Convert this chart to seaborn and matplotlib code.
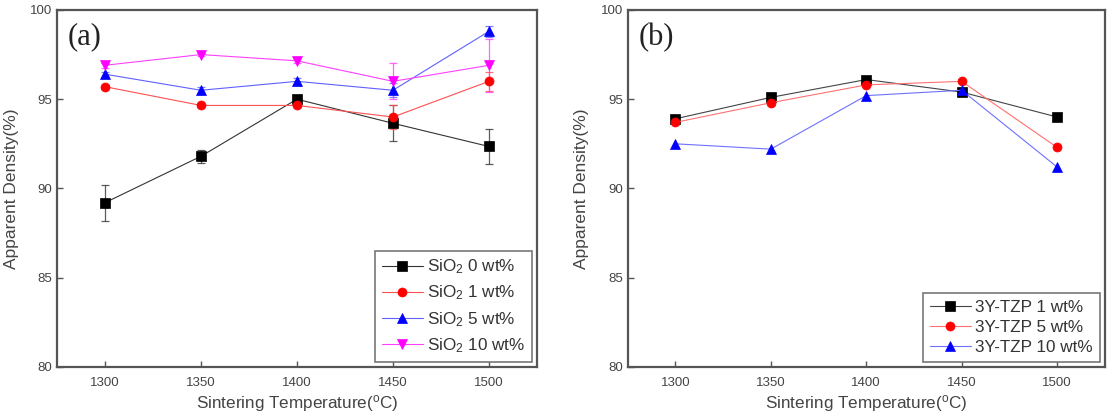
import numpy as np
import pandas as pd
import matplotlib
matplotlib.use("Agg")
import matplotlib.pyplot as plt
import seaborn as sns

# ---------------------------------------------------------
# DATA
# ---------------------------------------------------------

temps = [1300, 1350, 1400, 1450, 1500]

# panel (a): SiO2 additions
sio2_labels = ["SiO$_2$ 0 wt%", "SiO$_2$ 1 wt%", "SiO$_2$ 5 wt%", "SiO$_2$ 10 wt%"]
sio2_0 = [89.2, 91.8, 95.0, 93.65, 92.35]
sio2_1 = [95.7, 94.65, 94.65, 94.0, 96.0]
sio2_5 = [96.4, 95.5, 96.0, 95.5, 98.8]
sio2_10 = [96.9, 97.5, 97.15, 96.0, 96.9]
sio2_0_err = [1.0, 0.35, 0.1, 1.0, 1.0]
sio2_1_err = [0.1, 0.1, 0.1, 0.65, 0.55]
sio2_5_err = [0.15, 0.2, 0.2, 0.4, 0.3]
sio2_10_err = [0.15, 0.1, 0.15, 1.0, 1.5]

# panel (b): 3Y-TZP additions
tzp_labels = ["3Y-TZP 1 wt%", "3Y-TZP 5 wt%", "3Y-TZP 10 wt%"]
tzp_1 = [93.9, 95.1, 96.1, 95.4, 94.0]
tzp_5 = [93.7, 94.8, 95.8, 96.0, 92.3]
tzp_10 = [92.5, 92.2, 95.2, 95.5, 91.2]

colors_a = ["black", "red", "blue", "magenta"]
lines_a = ["#333333", "#ff5050", "#6060ff", "#ff40ff"]
markers_a = ["s", "o", "^", "v"]
colors_b = ["black", "red", "blue"]
lines_b = ["#444444", "#ff7070", "#7070ff"]
markers_b = ["s", "o", "^"]

# ---------------------------------------------------------
# STYLE
# ---------------------------------------------------------

sns.set_theme(style="ticks")
plt.rcParams["font.family"] = ["Liberation Sans", "DejaVu Sans"]
plt.rcParams["mathtext.default"] = "regular"
plt.rcParams["xtick.direction"] = "in"
plt.rcParams["ytick.direction"] = "in"

TEXT_GRAY = "#444444"
SPINE_GRAY = "#555555"


def style_axes(ax, tag):
    ax.set_xlim(1275, 1525)
    ax.set_ylim(80, 100)
    ax.set_xticks(temps)
    ax.set_yticks([80, 85, 90, 95, 100])
    ax.tick_params(axis="both", labelsize=9.5, colors=SPINE_GRAY,
                   labelcolor=TEXT_GRAY, length=4, width=1)
    ax.tick_params(axis="x", pad=7)
    for sp in ax.spines.values():
        sp.set_visible(True)
        sp.set_color(SPINE_GRAY)
        sp.set_linewidth(1.6)
    ax.set_xlabel("Sintering Temperature($^o$C)", fontsize=12.3,
                  color=TEXT_GRAY, labelpad=3)
    ax.set_ylabel("Apparent Density(%)", fontsize=12.5,
                  color=TEXT_GRAY, labelpad=8)
    ax.text(0.023, 0.965, tag, transform=ax.transAxes, ha="left", va="top",
            fontsize=22, family=["Liberation Serif", "DejaVu Serif"],
            color="#222222")


def draw_panel(ax, series, labels, colors, lcolors, markers, errors=None,
               spacing=0.3):
    for i, vals in enumerate(series):
        df = pd.DataFrame({"T": temps, "D": vals})
        sns.lineplot(data=df, x="T", y="D", ax=ax, color=lcolors[i],
                     marker=markers[i], markersize=6.5, linewidth=0.8,
                     markerfacecolor=colors[i], markeredgecolor=colors[i],
                     markeredgewidth=0.5, label=labels[i], zorder=3)
        if errors is not None:
            ax.errorbar(temps, vals, yerr=errors[i], fmt="none",
                        ecolor=lcolors[i], elinewidth=0.9, capsize=3,
                        capthick=0.9, alpha=0.8, zorder=2)
    leg = ax.legend(loc="lower right", fontsize=12.3, frameon=True,
                    fancybox=False, framealpha=1, edgecolor="#777777",
                    handlelength=2.4, borderpad=0.4, labelspacing=spacing,
                    handletextpad=0.25, borderaxespad=0.3)
    leg.get_frame().set_linewidth(1.2)
    for t in leg.get_texts():
        t.set_color("#333333")


fig = plt.figure(figsize=(11.07, 4.15), dpi=100)
ax_a = fig.add_axes([0.0515, 0.116, 0.4335, 0.86])
ax_b = fig.add_axes([0.567, 0.116, 0.431, 0.86])

draw_panel(ax_a, [sio2_0, sio2_1, sio2_5, sio2_10], sio2_labels,
           colors_a, lines_a, markers_a,
           errors=[sio2_0_err, sio2_1_err, sio2_5_err, sio2_10_err],
           spacing=0.44)
style_axes(ax_a, "(a)")

draw_panel(ax_b, [tzp_1, tzp_5, tzp_10], tzp_labels, colors_b, lines_b,
           markers_b, spacing=0.3)
style_axes(ax_b, "(b)")

fig.savefig("out.png", dpi=100)
